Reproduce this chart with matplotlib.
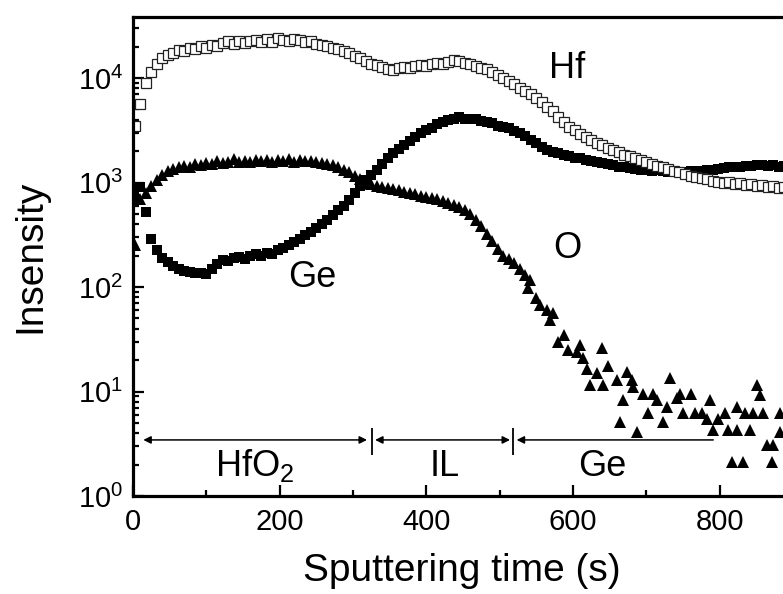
import numpy as np
import matplotlib
matplotlib.use("Agg")
import matplotlib.pyplot as plt
from matplotlib.ticker import MultipleLocator, LogLocator, NullFormatter

plt.rcParams["font.family"] = ["Liberation Sans", "DejaVu Sans"]
plt.rcParams["mathtext.fontset"] = "custom"
plt.rcParams["mathtext.rm"] = "Liberation Sans"
plt.rcParams["mathtext.it"] = "Liberation Sans:italic"

# sputtering time grid (s), one sample every 7.5 s
time = np.arange(2.5, 900, 7.5)

hf_counts = [
    3500, 5600, 9000, 11500, 13500, 15500, 16800, 17500, 18600, 18200,
    19500, 19000, 20200, 19600, 20800, 20100, 21500, 22600, 21200, 22800,
    21800, 22400, 23100, 22000, 23400, 22300, 24000, 23200, 22500, 23800,
    23000, 22100, 22700, 21400, 20800, 20200, 19500, 19000, 18100, 17400,
    16300, 15500, 14600, 13600, 13200, 12700, 12300, 12000, 12500, 12800,
    12400, 13000, 13300, 12900, 13600, 13900, 13500, 14200, 14800, 14400,
    14000, 13500, 13000, 12600, 12200, 11400, 10800, 10000, 9300, 8700,
    8100, 7500, 7000, 6500, 5900, 5300, 4800, 4200, 3800, 3400,
    3200, 2900, 2750, 2550, 2400, 2300, 2150, 2050, 1950, 1850,
    1780, 1700, 1650, 1580, 1520, 1450, 1400, 1350, 1300, 1250,
    1200, 1150, 1120, 1100, 1080, 1040, 1020, 1000, 1010, 960,
    990, 940, 970, 930, 950, 900, 930, 880, 910, 870,
]

ge_counts = [
    700, 900, 520, 290, 225, 190, 172, 158, 150, 143,
    139, 135, 137, 133, 150, 165, 182, 176, 188, 192,
    185, 198, 205, 196, 212, 208, 225, 238, 252, 268,
    290, 312, 335, 365, 400, 440, 490, 540, 590, 680,
    790, 920, 1050, 1190, 1330, 1500, 1700, 1900, 2100, 2300,
    2500, 2750, 2950, 3150, 3350, 3600, 3800, 3950, 4100, 4200,
    4100, 4050, 4100, 3900, 3800, 3700, 3500, 3400, 3300, 3100,
    2950, 2800, 2550, 2400, 2200, 2050, 1950, 1900, 1850, 1780,
    1720, 1700, 1650, 1600, 1560, 1550, 1500, 1470, 1420, 1400,
    1380, 1350, 1330, 1320, 1300, 1310, 1280, 1270, 1260, 1250,
    1260, 1280, 1300, 1290, 1320, 1330, 1350, 1380, 1400, 1420,
    1400, 1440, 1450, 1480, 1460, 1430, 1470, 1420, 1450, 1430,
]

# O signal on the same grid up to 535 s
o_counts = [
    250, 700, 800, 930, 1060, 1180, 1290, 1360, 1400, 1450,
    1420, 1500, 1470, 1540, 1500, 1600, 1530, 1580, 1680, 1560,
    1620, 1560, 1660, 1590, 1640, 1570, 1650, 1600, 1670, 1580,
    1640, 1600, 1620, 1570, 1540, 1500, 1460, 1400, 1330, 1250,
    1150, 1070, 1000, 960, 930, 910, 890, 870, 840, 810,
    790, 770, 740, 730, 710, 690, 670, 640, 610, 580,
    540, 500, 440, 380, 320, 275, 230, 200, 185, 170,
    150, 130,
]
# noisy O tail in the Ge substrate
o_tail_time = [
    539, 541, 550, 555, 564, 568, 573, 580, 587, 593, 605, 609, 614, 619,
    623, 632, 639, 641, 648, 660, 664, 668, 673, 680, 682, 687, 695, 702,
    709, 714, 723, 728, 732, 741, 746, 750, 760, 766, 775, 782, 787, 791,
    797, 807, 811, 816, 823, 824, 832, 834, 841, 845, 850, 855, 859, 864,
    871, 873, 882, 882,
]
o_tail_counts = [
    98, 117, 78, 68, 60, 48, 56, 30, 35, 25, 24, 28, 21, 16.6,
    11.5, 15.1, 26, 11.5, 17.4, 12.9, 5.1, 8.3, 15.5, 12.9, 11, 4.1, 9.5, 6.2,
    9.5, 8.3, 5.1, 7.1, 13.5, 8.7, 9.5, 6.2, 9.5, 6.2, 6.2, 5.4, 8.3, 4.3,
    5.4, 6.2, 4.3, 2.1, 4.3, 7.1, 2.1, 6.2, 4.3, 6.2, 11.5, 9.3, 6.2, 3.1,
    2.1, 3.1, 4.1, 6.2,
]

# layer boundaries (s)
hfo2_span = (14, 319)
il_span = (330, 514)
ge_span = (523, 791)
boundaries = [326, 518]

o_time = np.concatenate([time[:len(o_counts)], o_tail_time])
o_all = np.concatenate([o_counts, o_tail_counts])

fig = plt.figure(figsize=(7.83, 5.94), dpi=100)
ax = fig.add_axes([0.1699, 0.165, 0.9368, 0.8064])

ax.plot(o_time, o_all, ls="none", marker="^", ms=8, color="black", mew=0)
ax.plot(time, ge_counts, ls="none", marker="s", ms=6.8, color="black", mew=0)
ax.plot(time, hf_counts, ls="none", marker="s", ms=6.6, mfc="white",
        mec="#222222", mew=0.9)

ax.set_yscale("log")
ax.set_xlim(0, 1000)
ax.set_ylim(1, 3.84e4)

ax.set_xticks([0, 200, 400, 600, 800])
ax.xaxis.set_minor_locator(MultipleLocator(100))
ax.yaxis.set_major_locator(LogLocator(base=10))
ax.yaxis.set_minor_locator(LogLocator(base=10, subs=np.arange(2, 10)))
ax.yaxis.set_minor_formatter(NullFormatter())

ax.tick_params(which="both", direction="in", top=False, right=False,
               width=1.6, labelsize=21)
ax.tick_params(which="major", length=8)
ax.tick_params(which="minor", length=4.5)
ax.tick_params(axis="x", pad=9)
ax.tick_params(axis="y", pad=7)
for sp in ax.spines.values():
    sp.set_linewidth(2.3)

ax.set_xlabel("Sputtering time (s)", fontsize=28)
ax.set_ylabel("Insensity", fontsize=28)
ax.xaxis.set_label_coords(0.448, -0.118)
ax.yaxis.set_label_coords(-0.116, 0.5)

# element labels
ax.text(592, 1.0e4, "Hf", fontsize=26, ha="center", va="baseline")
ax.text(592, 190, "O", fontsize=26, ha="center", va="baseline")
ax.text(245, 100, "Ge", fontsize=26, ha="center", va="baseline")

# layer arrows
arrow_y = 3.44
arr = dict(arrowstyle="<|-|>", color="black", lw=1.1,
           mutation_scale=11, shrinkA=0, shrinkB=0)
ax.annotate("", xy=(hfo2_span[0], arrow_y), xytext=(hfo2_span[1], arrow_y),
            arrowprops=arr)
ax.annotate("", xy=(il_span[0], arrow_y), xytext=(il_span[1], arrow_y),
            arrowprops=arr)
ax.annotate("", xy=(ge_span[0], arrow_y), xytext=(ge_span[1], arrow_y),
            arrowprops=dict(arr, arrowstyle="-|>"))
ax.vlines(boundaries, 2.47, 4.47, color="black", lw=1.3)

ax.text(166, 1.55, "HfO$_2$", fontsize=26, ha="center", va="baseline")
ax.text(425, 1.55, "IL", fontsize=26, ha="center", va="baseline")
ax.text(640, 1.55, "Ge", fontsize=26, ha="center", va="baseline")

fig.savefig("out.png", dpi=100)
